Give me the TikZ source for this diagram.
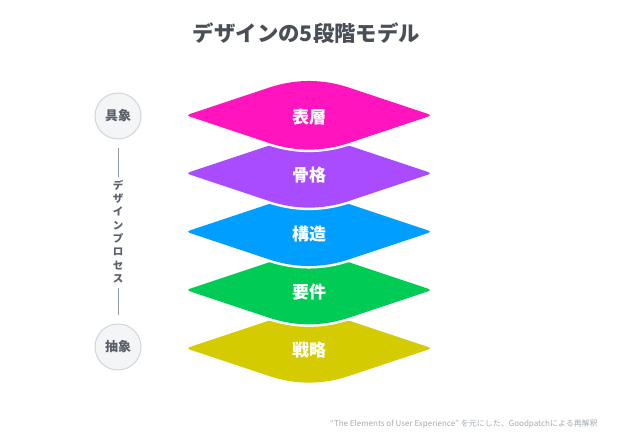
\documentclass[tikz,border=0pt]{standalone}
\usepackage{fontspec}
\newfontfamily\jp{Noto Sans CJK JP}
\definecolor{hyosoColor}{HTML}{FF14BE}
\definecolor{kokkakuColor}{HTML}{A94BFF}
\definecolor{kozoColor}{HTML}{009FFF}
\definecolor{yokenColor}{HTML}{00CC55}
\definecolor{senryakuColor}{HTML}{D4CC00}
\definecolor{titleGray}{HTML}{4A4F57}
\definecolor{labelGray}{HTML}{5A606A}
\definecolor{ringFill}{HTML}{F3F5F7}
\definecolor{ringLine}{HTML}{CDD6DD}
\definecolor{lineGray}{HTML}{8E979F}
\definecolor{noteGray}{HTML}{A4ABB2}
\tikzset{
  layer/.pic={
    \path[preaction={draw=white, line width=5pt, line join=round}, pic actions]
      (-115,-2.67) -- (-40,-27.67) .. controls (-13.33,-36.56) and (13.33,-36.56) .. (40,-27.67)
      -- (115,-2.67) .. controls (123,0) .. (115,2.67)
      -- (40,27.67) .. controls (13.33,36.56) and (-13.33,36.56) .. (-40,27.67)
      -- (-115,2.67) .. controls (-123,0) .. (-115,-2.67) -- cycle;
  },
  layertext/.style={text=white, font=\jp\bfseries\fontsize{17}{20}\selectfont},
  stage/.style={circle, minimum size=46pt, inner sep=0pt, fill=ringFill,
    draw=ringLine, line width=1pt, text=labelGray,
    font=\jp\bfseries\fontsize{13}{15}\selectfont}
}
\begin{document}
\begin{tikzpicture}[x=1pt, y=-1pt]
	\useasboundingbox (0,0) rectangle (624,439);
	\node[text=titleGray, font=\jp\bfseries\fontsize{21.4}{24}\selectfont] (title) at (306.5,33) {デザインの5段階モデル};
	\pic[fill=senryakuColor] at (309,348.3) {layer};
	\node[layertext] (senryaku) at (309,350.3) {戦略};
	\pic[fill=yokenColor] at (309,290) {layer};
	\node[layertext] (yoken) at (309,292) {要件};
	\pic[fill=kozoColor] at (309,231.7) {layer};
	\node[layertext] (kozo) at (309,233.7) {構造};
	\pic[fill=kokkakuColor] at (309,173.3) {layer};
	\node[layertext] (kokkaku) at (309,175.3) {骨格};
	\pic[fill=hyosoColor] at (309,115.3) {layer};
	\node[layertext] (hyoso) at (309,117.3) {表層};
	\node[stage] (gutai) at (118,116) {具象};
	\node[stage] (chusho) at (118,347) {抽象};
	\node[inner sep=0pt, align=center, text=labelGray, font=\jp\bfseries\fontsize{10.5}{13.3}\selectfont] (process) at (118,231.5) {デ\\ザ\\イ\\ン\\プ\\ロ\\セ\\ス};
	\draw[lineGray, line width=0.9pt, shorten <=8pt, shorten >=3pt] (gutai.south) -- (process.north);
	\draw[lineGray, line width=0.9pt, shorten <=5pt, shorten >=9pt] (process.south) -- (chusho.north);
	\node[text=noteGray, font=\jp\fontsize{8}{10}\selectfont] (note) at (464,424) {“The Elements of User Experience” を元にした、Goodpatchによる再解釈};
\end{tikzpicture}
\end{document}
